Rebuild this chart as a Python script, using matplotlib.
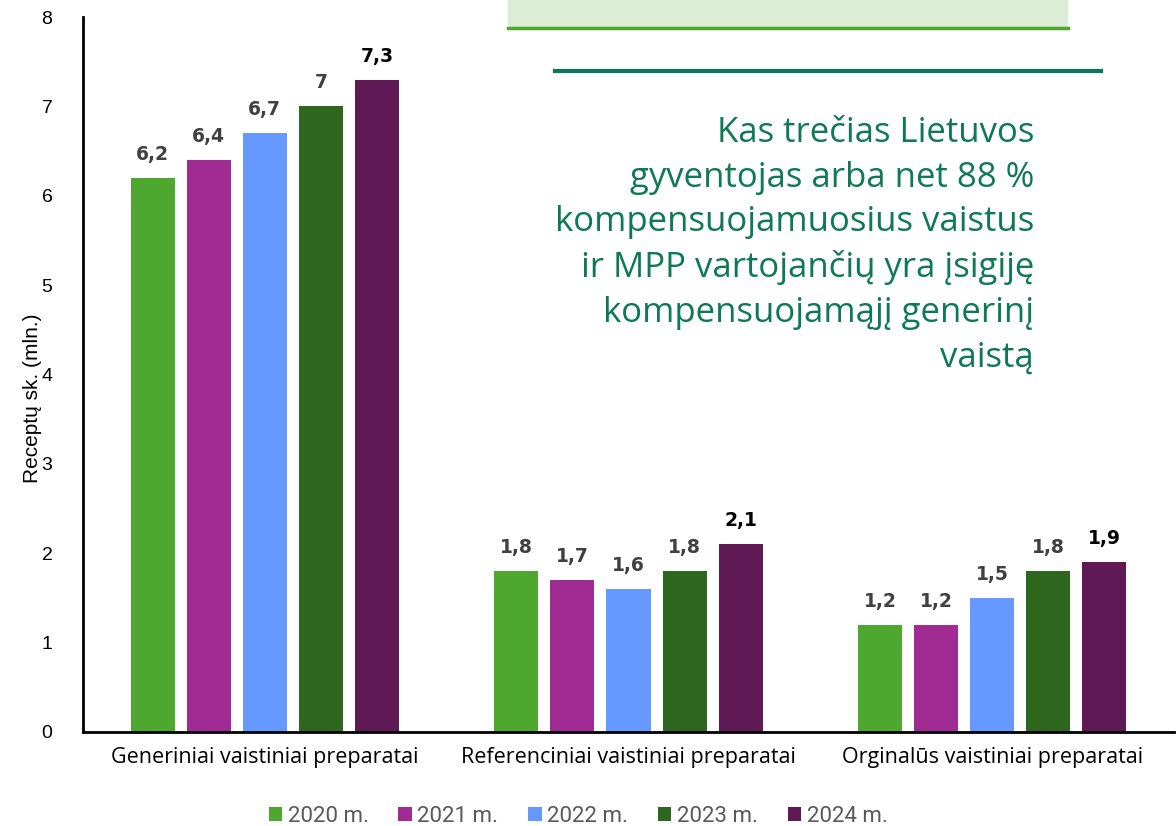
import matplotlib
matplotlib.use("Agg")
import matplotlib.pyplot as plt
from matplotlib.patches import Rectangle
from matplotlib.lines import Line2D
import numpy as np

categories = ["Generiniai vaistiniai preparatai", "Referenciniai vaistiniai preparatai", "Orginalūs vaistiniai preparatai"]
years = ["2020 m.", "2021 m.", "2022 m.", "2023 m.", "2024 m."]
values = {
    "2020 m.": [6.2, 1.8, 1.2],
    "2021 m.": [6.4, 1.7, 1.2],
    "2022 m.": [6.7, 1.6, 1.5],
    "2023 m.": [7.0, 1.8, 1.8],
    "2024 m.": [7.3, 2.1, 1.9],
}
colors = ["#4ea72e", "#a02b93", "#6699ff", "#2e671e", "#5f1a55"]
label_colors = ["#404040", "#404040", "#404040", "#404040", "#000000"]
annotation = ("Kas trečias Lietuvos\ngyventojas arba net 88 %\nkompensuojamuosius vaistus\n"
              "ir MPP vartojančių yra įsigiję\nkompensuojamąjį generinį\nvaistą")

plt.rcParams['font.family'] = ['Open Sans', 'DejaVu Sans']

W, H = 1176, 826
fig = plt.figure(figsize=(W/100, H/100), dpi=100)
ax = fig.add_axes([83/W, 1-732/H, (1174-83)/W, (732-17)/H])

x = np.arange(len(categories))
step = 0.154
bw = 0.121
for i, y in enumerate(years):
    pos = x + (i-2)*step
    bars = ax.bar(pos, values[y], width=bw, color=colors[i], label=y, zorder=2)
    for p, v in zip(pos, values[y]):
        txt = f"{v:g}".replace(".", ",")
        ax.annotate(txt, (p, v), xytext=(0, 10), textcoords="offset points",
                    ha="center", va="bottom", fontsize=13.5, fontweight="bold",
                    color=label_colors[i], family="DejaVu Sans")

ax.set_xlim(-0.5, 2.5)
ax.set_ylim(0, 8)
ax.set_yticks(range(0, 9))
ax.set_xticks(x)
ax.set_xticklabels(categories, fontsize=15.5)
ax.tick_params(axis='both', length=0, colors="black")
ax.tick_params(axis='x', pad=11)
ax.tick_params(axis='y', pad=22, labelsize=14)
for lab in ax.get_yticklabels():
    lab.set_family("Liberation Sans")
for s in ["top", "right"]:
    ax.spines[s].set_visible(False)
for s in ["left", "bottom"]:
    ax.spines[s].set_linewidth(2)
    ax.spines[s].set_color("black")
fig.text(33/W, 1-398/H, "Receptų sk. (mln.)", rotation=90, ha="center", va="center",
         fontsize=15, family="Liberation Sans", color="black")

leg = fig.legend(loc="center", bbox_to_anchor=(578/W, 1-816/H), ncol=5, frameon=False,
                 prop={"family": "Roboto", "size": 16}, handlelength=0.6, handleheight=0.6,
                 handletextpad=0.25, columnspacing=1.35, borderpad=0)
for t in leg.get_texts():
    t.set_color("#595959")

# overlay box and lines (figure pixel coordinates)
def fx(px): return px / W
def fy(py): return 1 - py / H
fig.patches.append(Rectangle((fx(508), fy(28)), fx(1068)-fx(508), fy(-5)-fy(28),
                             transform=fig.transFigure, facecolor="#dcedd6", edgecolor="none", zorder=5))
fig.lines.append(Line2D([fx(508), fx(1068)], [fy(28), fy(28)], transform=fig.transFigure,
                        color="#4ea72e", lw=2.5, zorder=6))
fig.lines.append(Line2D([fx(555), fx(1101)], [fy(71), fy(71)], transform=fig.transFigure,
                        color="#0e7656", lw=3, zorder=6))
fig.text(fx(1034), fy(116), annotation, ha="right", va="top", fontsize=25,
         color="#0e7a55", linespacing=1.41, zorder=7)

fig.savefig("out.png", dpi=100)
